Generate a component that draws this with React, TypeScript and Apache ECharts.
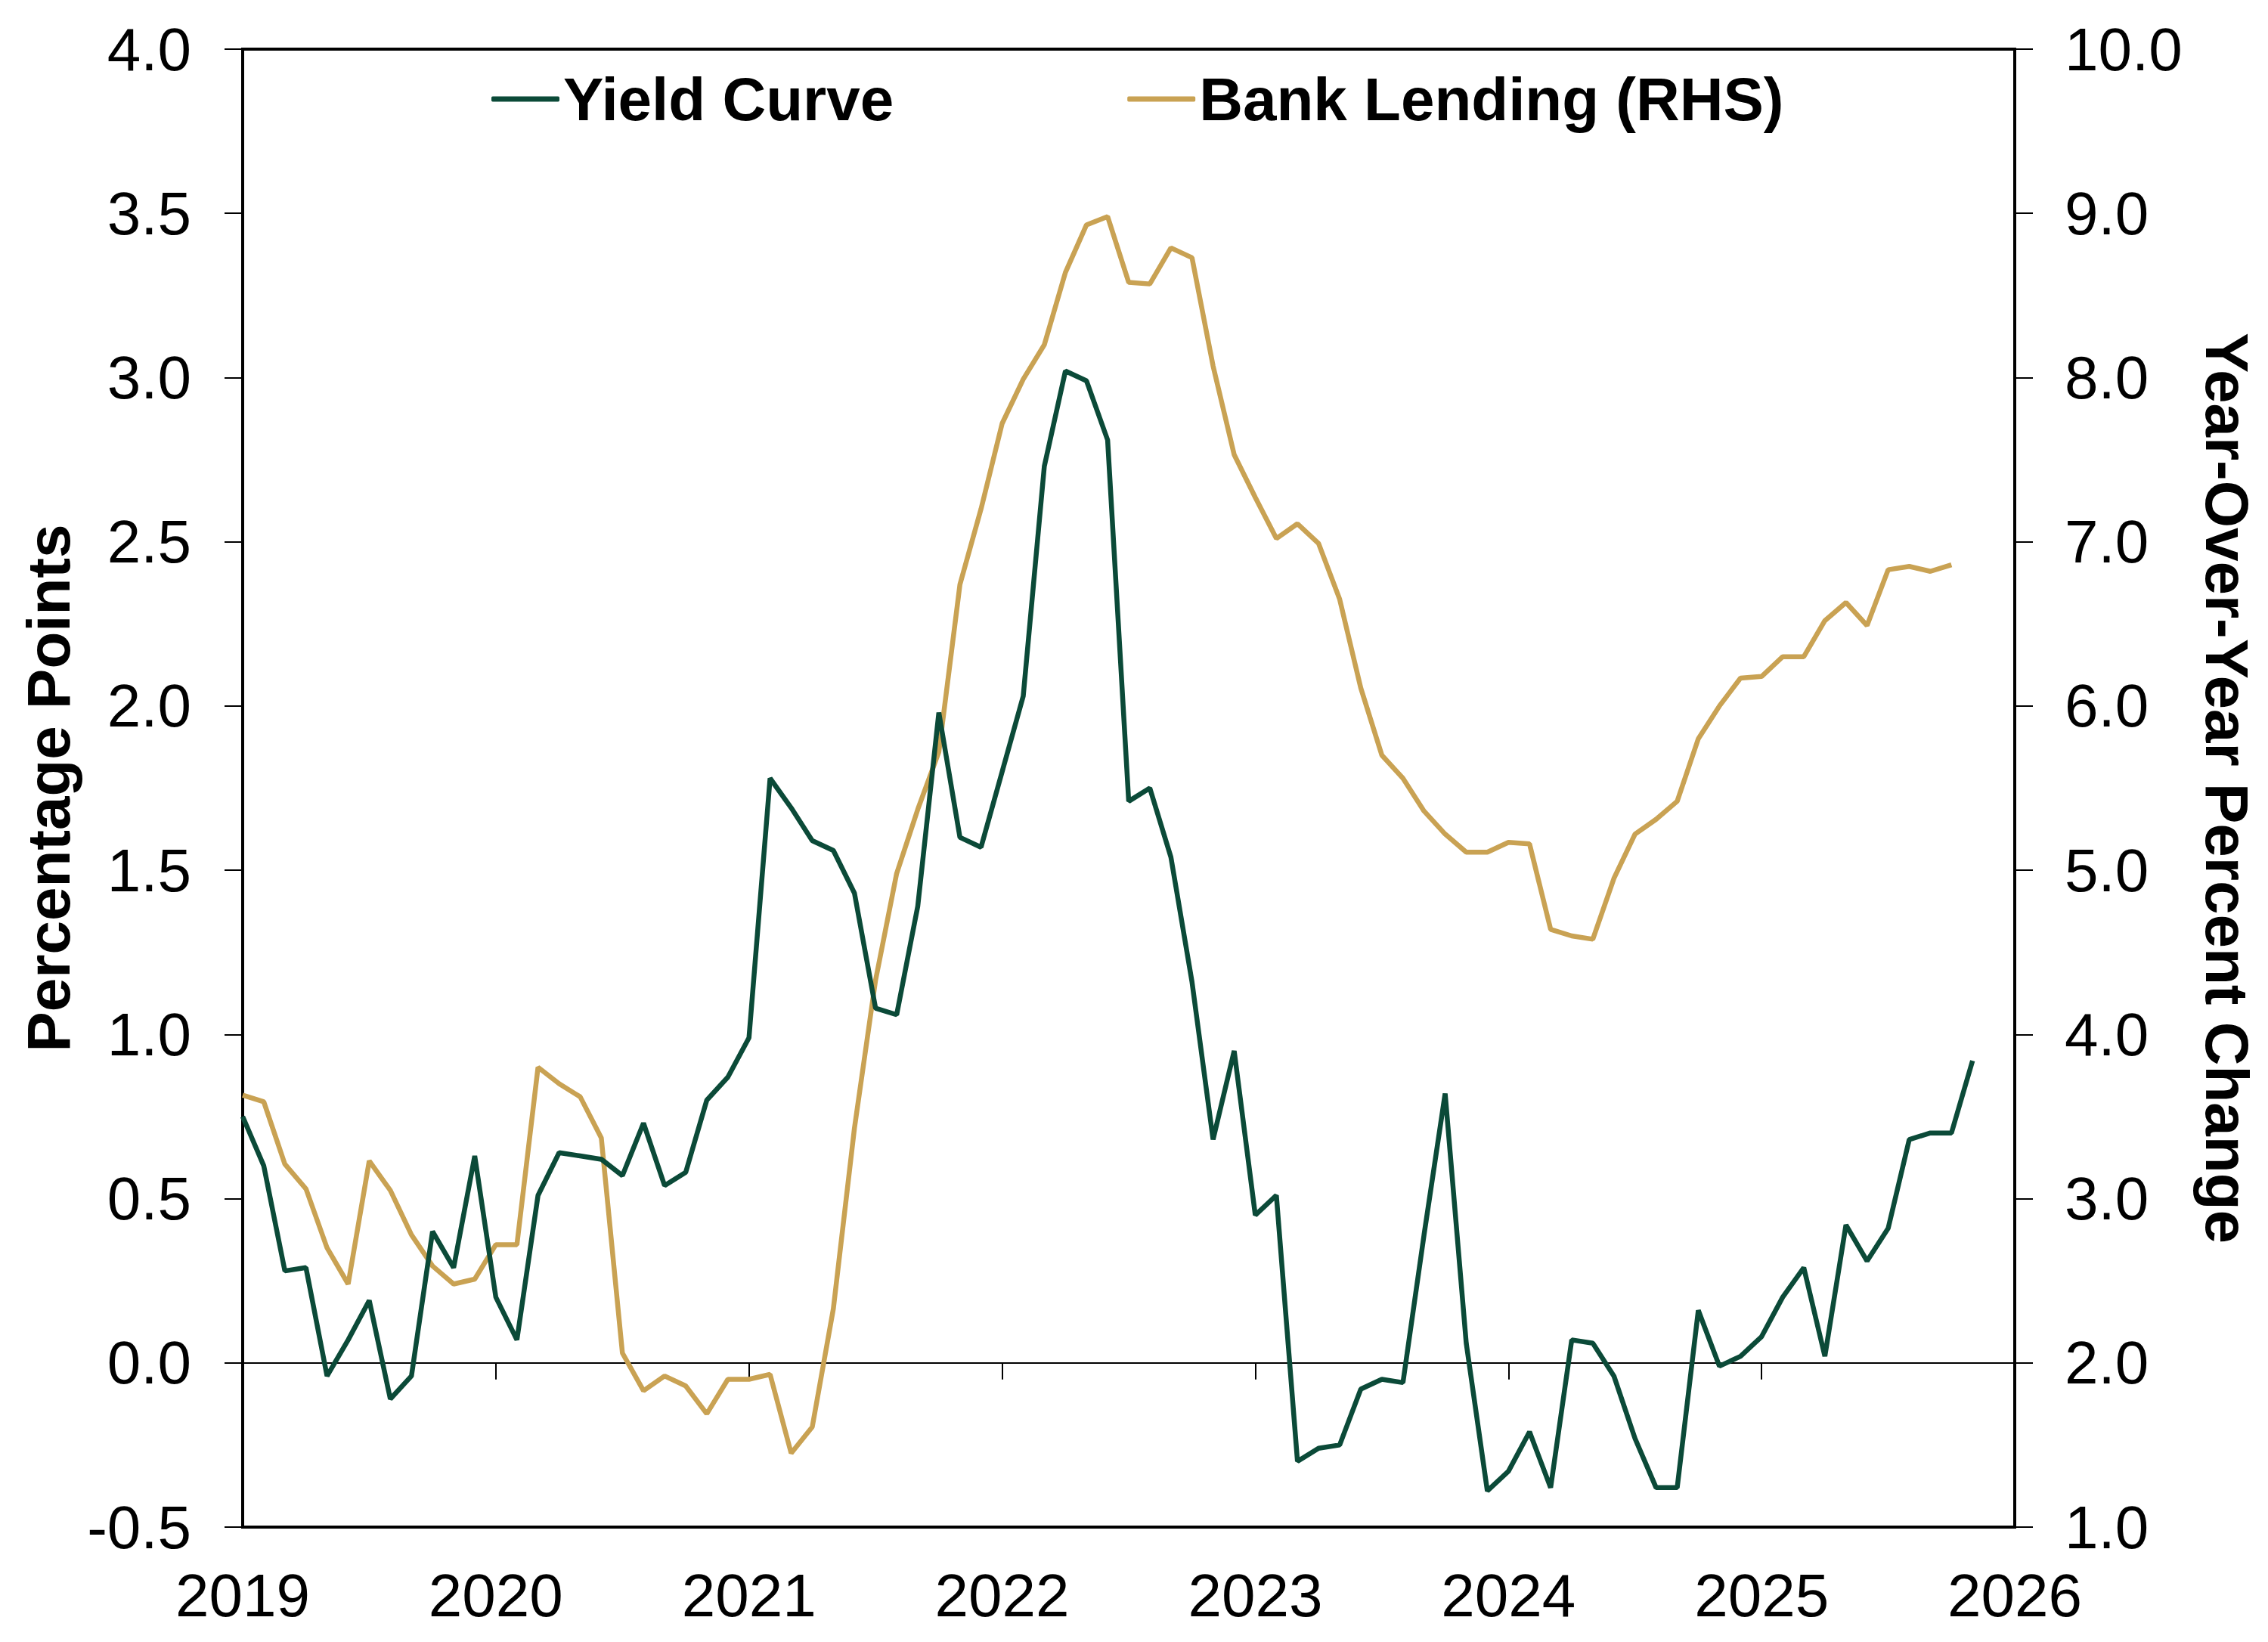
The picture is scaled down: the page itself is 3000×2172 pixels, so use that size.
import React, { useEffect, useRef } from "react";
import * as echarts from "echarts";

const START_YEAR = 2019;
const yearTicks = [2019, 2020, 2021, 2022, 2023, 2024, 2025, 2026];

// Monthly, Jan 2019 - Nov 2025 (percentage points)
const yieldCurve = [
  0.75, 0.6, 0.28, 0.29, -0.04, 0.07, 0.19, -0.11, -0.04, 0.4, 0.29, 0.63,
  0.2, 0.07, 0.51, 0.64, 0.63, 0.62, 0.57, 0.73, 0.54, 0.58, 0.8, 0.87,
  0.99, 1.78, 1.69, 1.59, 1.56, 1.43, 1.08, 1.06, 1.39, 1.98, 1.6, 1.57,
  1.8, 2.03, 2.73, 3.02, 2.99, 2.81, 1.71, 1.75, 1.54, 1.16, 0.68, 0.95,
  0.45, 0.51, -0.3, -0.26, -0.25, -0.08, -0.05, -0.06, 0.39, 0.82, 0.06, -0.39,
  -0.33, -0.21, -0.38, 0.07, 0.06, -0.04, -0.23, -0.38, -0.38, 0.16, -0.01, 0.02,
  0.08, 0.2, 0.29, 0.02, 0.42, 0.31, 0.41, 0.68, 0.7, 0.7, 0.92,
];

// Monthly, Jan 2019 - Oct 2025 (year-over-year % change, RHS)
const bankLending = [
  3.63, 3.59, 3.21, 3.06, 2.7, 2.48, 3.23, 3.05, 2.78, 2.59, 2.48, 2.51,
  2.72, 2.72, 3.8, 3.7, 3.62, 3.37, 2.06, 1.83, 1.92, 1.86, 1.69, 1.9,
  1.9, 1.93, 1.45, 1.61, 2.33, 3.43, 4.33, 4.98, 5.37, 5.72, 6.74, 7.2,
  7.72, 7.99, 8.2, 8.64, 8.93, 8.98, 8.58, 8.57, 8.79, 8.73, 8.07, 7.53,
  7.27, 7.02, 7.11, 6.99, 6.65, 6.11, 5.7, 5.56, 5.36, 5.22, 5.11, 5.11,
  5.17, 5.16, 4.64, 4.6, 4.58, 4.95, 5.22, 5.31, 5.42, 5.8, 6.0, 6.17,
  6.18, 6.3, 6.3, 6.52, 6.63, 6.49, 6.83, 6.85, 6.82, 6.86,
];

const seriesNames = ["Yield Curve", "Bank Lending (RHS)"];
const seriesColors = ["#0b4a38", "#c9a253"];
const leftAxisName = "Percentage Points";
const rightAxisName = "Year-Over-Year Percent Change";

const FONT = "'Liberation Sans', Arial, Helvetica, sans-serif";

function toPoints(values: number[]) {
  return values.map((v, i) => [START_YEAR + i / 12, v]);
}

export default function App() {
  const ref = useRef<HTMLDivElement>(null);

  useEffect(() => {
    if (!ref.current) return;
    const chart = echarts.init(ref.current, undefined, { renderer: "svg" });
    const labelStyle = { fontFamily: FONT, fontSize: 80, color: "#000" };
    const nameStyle = { fontFamily: FONT, fontSize: 80, fontWeight: "bold" as const, color: "#000" };
    chart.setOption({
      animation: false,
      backgroundColor: "#fff",
      grid: {
        left: 321,
        right: 335,
        top: 65,
        bottom: 152,
        show: true,
        borderColor: "#000",
        borderWidth: 4,
        backgroundColor: "transparent",
      },
      legend: {
        left: 645,
        top: 86,
        itemWidth: 90,
        itemHeight: 7,
        itemGap: 309,
        icon: "roundRect",
        data: seriesNames,
        textStyle: { ...nameStyle },
      },
      xAxis: [
        {
          type: "value",
          min: yearTicks[0],
          max: yearTicks[yearTicks.length - 1],
          interval: 1,
          position: "bottom",
          axisLine: { show: false, onZero: false },
          axisTick: { show: false },
          splitLine: { show: false },
          axisLabel: { ...labelStyle, margin: 50, formatter: (v: number) => String(v) },
        },
        {
          type: "value",
          min: yearTicks[0],
          max: yearTicks[yearTicks.length - 1],
          interval: 1,
          position: "bottom",
          axisLine: { show: true, onZero: true, onZeroAxisIndex: 0, lineStyle: { color: "#000", width: 2 } },
          axisTick: { show: true, length: 22, lineStyle: { color: "#000", width: 2 } },
          splitLine: { show: false },
          axisLabel: { show: false },
        },
      ],
      yAxis: [
        {
          type: "value",
          position: "left",
          min: -0.5,
          max: 4,
          interval: 0.5,
          axisLine: { show: true, lineStyle: { color: "#000", width: 4 } },
          axisTick: { show: true, length: 24, lineStyle: { color: "#000", width: 2 } },
          splitLine: { show: false },
          axisLabel: { ...labelStyle, margin: 68, formatter: (v: number) => v.toFixed(1) },
          name: leftAxisName,
          nameLocation: "middle",
          nameRotate: 90,
          nameGap: 215,
          nameTextStyle: nameStyle,
        },
        {
          type: "value",
          position: "right",
          min: 1,
          max: 10,
          interval: 1,
          axisLine: { show: true, lineStyle: { color: "#000", width: 4 } },
          axisTick: { show: true, length: 24, lineStyle: { color: "#000", width: 2 } },
          splitLine: { show: false },
          axisLabel: { ...labelStyle, margin: 66, formatter: (v: number) => v.toFixed(1) },
          name: rightAxisName,
          nameLocation: "middle",
          nameRotate: -90,
          nameGap: 240,
          nameTextStyle: nameStyle,
        },
      ],
      series: [
        {
          name: seriesNames[0],
          type: "line",
          xAxisIndex: 0,
          yAxisIndex: 0,
          data: toPoints(yieldCurve),
          symbol: "none",
          color: seriesColors[0],
          lineStyle: { width: 6.5, color: seriesColors[0] },
          z: 3,
        },
        {
          name: seriesNames[1],
          type: "line",
          xAxisIndex: 0,
          yAxisIndex: 1,
          data: toPoints(bankLending),
          symbol: "none",
          color: seriesColors[1],
          lineStyle: { width: 6.5, color: seriesColors[1] },
          z: 2,
        },
      ],
    });
    return () => chart.dispose();
  }, []);

  return (
    <div
      ref={ref}
      style={{ position: "absolute", left: 0, top: 0, width: 3000, height: 2172, background: "#fff" }}
    />
  );
}
